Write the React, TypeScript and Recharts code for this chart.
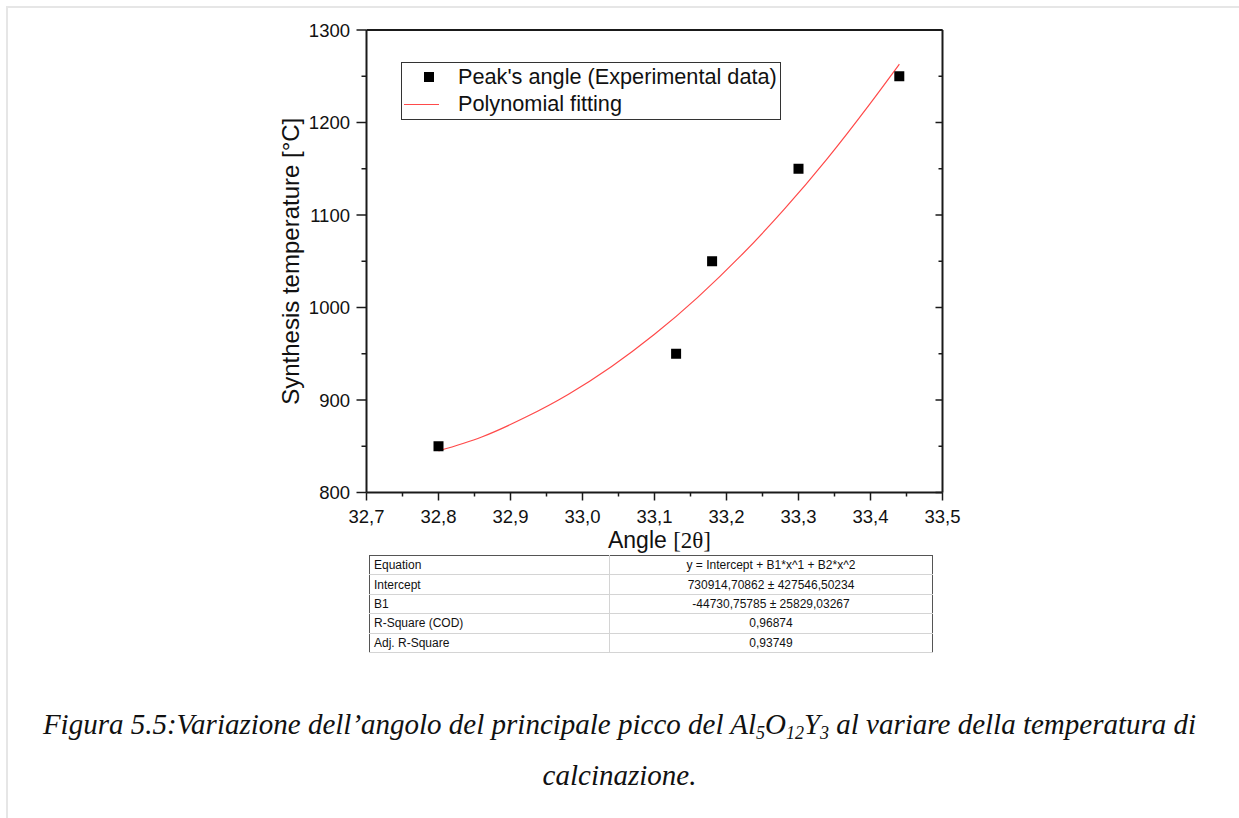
import React from "react";
import {
  ComposedChart,
  XAxis,
  YAxis,
  Scatter,
  Line,
  Legend,
} from "recharts";

// x axis (2θ) ticks
const angleMajor = [32.7, 32.8, 32.9, 33.0, 33.1, 33.2, 33.3, 33.4, 33.5];
const angleMinor = [32.75, 32.85, 32.95, 33.05, 33.15, 33.25, 33.35, 33.45];
// y axis (°C) ticks
const tempMajor = [800, 900, 1000, 1100, 1200, 1300];
const tempMinor = [850, 950, 1050, 1150, 1250];

// experimental peaks
const peakAngle = [32.8, 33.13, 33.18, 33.3, 33.44];
const peakTemp = [850, 950, 1050, 1150, 1250];

// polynomial fitting curve
const fitAngle = [32.8, 32.86, 32.92, 32.98, 33.04, 33.1, 33.16, 33.22, 33.28, 33.34, 33.4, 33.44];
const fitTemp = [845, 860, 881, 906, 936, 971, 1011, 1056, 1106, 1161, 1221, 1263];

// fit report table
const tableParams = ["Equation", "Intercept", "B1", "R-Square (COD)", "Adj. R-Square"];
const tableValues = [
  "y = Intercept + B1*x^1 + B2*x^2",
  "730914,70862 ± 427546,50234",
  "-44730,75785 ± 25829,03267",
  "0,96874",
  "0,93749",
];

const peaks = peakAngle.map((a, i) => ({ angle: a, temp: peakTemp[i] }));
const fit = fitAngle.map((a, i) => ({ angle: a, temp: fitTemp[i] }));
const angleTicks = [...angleMajor, ...angleMinor].sort((a, b) => a - b);
const tempTicks = [...tempMajor, ...tempMinor].sort((a, b) => a - b);

const SANS = "'Liberation Sans', Arial, sans-serif";
const SERIF = "'Liberation Serif', 'Times New Roman', serif";
const AX = "#1a1a1a";

const fmtAngle = (v: number) => v.toFixed(1).replace(".", ",");

function BottomTick(props: any) {
  const { x, y, payload } = props;
  const major = angleMajor.includes(payload.value);
  return (
    <g>
      <line x1={x} y1={y} x2={x} y2={y + (major ? 8 : 4)} stroke={AX} strokeWidth={1.5} />
      {major && (
        <text x={x} y={y + 30.5} textAnchor="middle" fontSize={18.5} fontFamily={SANS} fill="#111">
          {fmtAngle(payload.value)}
        </text>
      )}
    </g>
  );
}

function TopTick(props: any) {
  const { x, y, payload } = props;
  const major = angleMajor.includes(payload.value);
  return <line x1={x} y1={y} x2={x} y2={y + (major ? 7 : 4)} stroke={AX} strokeWidth={1.5} />;
}

function LeftTick(props: any) {
  const { x, y, payload } = props;
  const major = tempMajor.includes(payload.value);
  return (
    <g>
      <line x1={x - (major ? 10 : 5)} y1={y} x2={x} y2={y} stroke={AX} strokeWidth={1.5} />
      {major && (
        <text x={x - 16.5} y={y + 6.5} textAnchor="end" fontSize={18.5} fontFamily={SANS} fill="#111">
          {payload.value}
        </text>
      )}
    </g>
  );
}

function RightTick(props: any) {
  const { x, y, payload } = props;
  const major = tempMajor.includes(payload.value);
  return <line x1={x - (major ? 7 : 4)} y1={y} x2={x} y2={y} stroke={AX} strokeWidth={1.5} />;
}

function LegendBox() {
  return (
    <div
      style={{
        position: "relative",
        width: 378,
        height: 56,
        border: "1px solid #333",
        background: "#fff",
        fontFamily: SANS,
        fontSize: 21.7,
        color: "#111",
      }}
    >
      <div style={{ position: "absolute", left: 22, top: 9, width: 10, height: 10, background: "#000" }} />
      <div style={{ position: "absolute", left: 56, top: 1, lineHeight: "26px", whiteSpace: "nowrap" }}>
        Peak's angle (Experimental data)
      </div>
      <div style={{ position: "absolute", left: 2, top: 41, width: 35, height: 1, background: "#ff4a4a" }} />
      <div style={{ position: "absolute", left: 56, top: 28, lineHeight: "26px", whiteSpace: "nowrap" }}>
        Polynomial fitting
      </div>
    </div>
  );
}

const subStyle: React.CSSProperties = { fontSize: 18, verticalAlign: "-0.25em", lineHeight: 0 };

export default function App() {
  return (
    <div style={{ position: "absolute", left: 0, top: 0, width: 1239, height: 818, background: "#fff" }}>
      {/* page frame */}
      <div
        style={{
          position: "absolute",
          left: 6,
          top: 6,
          width: 1233,
          height: 812,
          borderTop: "2px solid #e6e6e6",
          borderLeft: "2px solid #e6e6e6",
          boxSizing: "border-box",
        }}
      />
      <div style={{ position: "absolute", left: 0, top: 0 }}>
        <ComposedChart
          width={1000}
          height={570}
          margin={{ top: 29, right: 56.5, left: 0, bottom: 7.5 }}
        >
          <XAxis
            dataKey="angle"
            type="number"
            domain={[32.7, 33.5]}
            ticks={angleTicks}
            interval={0}
            height={70}
            tickSize={0}
            tickMargin={0}
            tickLine={false}
            tick={BottomTick}
            axisLine={{ stroke: AX, strokeWidth: 2 }}
            allowDataOverflow
            label={{
              content: (p: any) => {
                const vb = p.viewBox;
                return (
                  <text x={vb.x + vb.width / 2 + 5} y={vb.y + 55.5} textAnchor="middle" fontSize={23} fontFamily={SANS} fill="#111">
                    Angle <tspan fontFamily={SERIF}>[2θ]</tspan>
                  </text>
                );
              },
            }}
          />
          <XAxis
            xAxisId="top"
            orientation="top"
            type="number"
            domain={[32.7, 33.5]}
            ticks={angleTicks}
            interval={0}
            height={1}
            tickSize={0}
            tickMargin={0}
            tickLine={false}
            tick={TopTick}
            axisLine={{ stroke: AX, strokeWidth: 2 }}
            allowDataOverflow
          />
          <YAxis
            dataKey="temp"
            type="number"
            domain={[800, 1300]}
            ticks={tempTicks}
            interval={0}
            width={366.5}
            tickSize={0}
            tickMargin={0}
            tickLine={false}
            tick={LeftTick}
            axisLine={{ stroke: AX, strokeWidth: 2 }}
            allowDataOverflow
            label={{
              content: (p: any) => {
                const vb = p.viewBox;
                const cx = vb.x + vb.width - 76;
                const cy = vb.y + vb.height / 2;
                return (
                  <text
                    transform={`translate(${cx},${cy}) rotate(-90)`}
                    textAnchor="middle"
                    dominantBaseline="central"
                    fontSize={24}
                    fontFamily={SANS}
                    fill="#111"
                  >
                    Synthesis temperature [°C]
                  </text>
                );
              },
            }}
          />
          <YAxis
            yAxisId="right"
            orientation="right"
            type="number"
            domain={[800, 1300]}
            ticks={tempTicks}
            interval={0}
            width={1}
            tickSize={0}
            tickMargin={0}
            tickLine={false}
            tick={RightTick}
            axisLine={{ stroke: AX, strokeWidth: 2 }}
            allowDataOverflow
          />
          <Line
            data={fit}
            dataKey="temp"
            name="Polynomial fitting"
            type="monotone"
            stroke="#ff4a4a"
            strokeWidth={1.2}
            dot={false}
            isAnimationActive={false}
          />
          <Scatter
            data={peaks}
            dataKey="temp"
            name="Peak's angle (Experimental data)"
            fill="#000"
            isAnimationActive={false}
            shape={(p: any) => <rect x={p.cx - 5} y={p.cy - 5} width={10} height={10} fill="#000" />}
          />
          <Legend
            layout="vertical"
            align="center"
            verticalAlign="middle"
            content={() => <LegendBox />}
            wrapperStyle={{ position: "absolute", left: 401, top: 62, width: 380 }}
          />
        </ComposedChart>
      </div>

      {/* fit report */}
      <table
        style={{
          position: "absolute",
          left: 369,
          top: 555,
          width: 564,
          borderCollapse: "collapse",
          border: "1px solid #555",
          fontFamily: SANS,
          fontSize: 12,
          color: "#111",
          background: "#fff",
        }}
      >
        <tbody>
          {tableParams.map((p, i) => (
            <tr key={p} style={{ height: 19.4 }}>
              <td style={{ width: 231, padding: "0 4px", borderBottom: "1px solid #d4d4d4", borderRight: "1px solid #d4d4d4", lineHeight: "18px" }}>
                {p}
              </td>
              <td style={{ textAlign: "center", padding: 0, borderBottom: "1px solid #d4d4d4", lineHeight: "18px" }}>
                {tableValues[i]}
              </td>
            </tr>
          ))}
        </tbody>
      </table>

      {/* caption */}
      <div
        style={{
          position: "absolute",
          left: 0,
          top: 706,
          width: 1239,
          textAlign: "center",
          fontFamily: SERIF,
          fontStyle: "italic",
          fontSize: 29,
          lineHeight: "36px",
          color: "#111",
          whiteSpace: "nowrap",
        }}
      >
        Figura 5.5:Variazione dell’angolo del principale picco del Al<span style={subStyle}>5</span>O
        <span style={subStyle}>12</span>Y<span style={subStyle}>3</span> al variare della temperatura di
      </div>
      <div
        style={{
          position: "absolute",
          left: 0,
          top: 757,
          width: 1239,
          textAlign: "center",
          fontFamily: SERIF,
          fontStyle: "italic",
          fontSize: 29,
          lineHeight: "36px",
          color: "#111",
        }}
      >
        calcinazione.
      </div>
    </div>
  );
}
